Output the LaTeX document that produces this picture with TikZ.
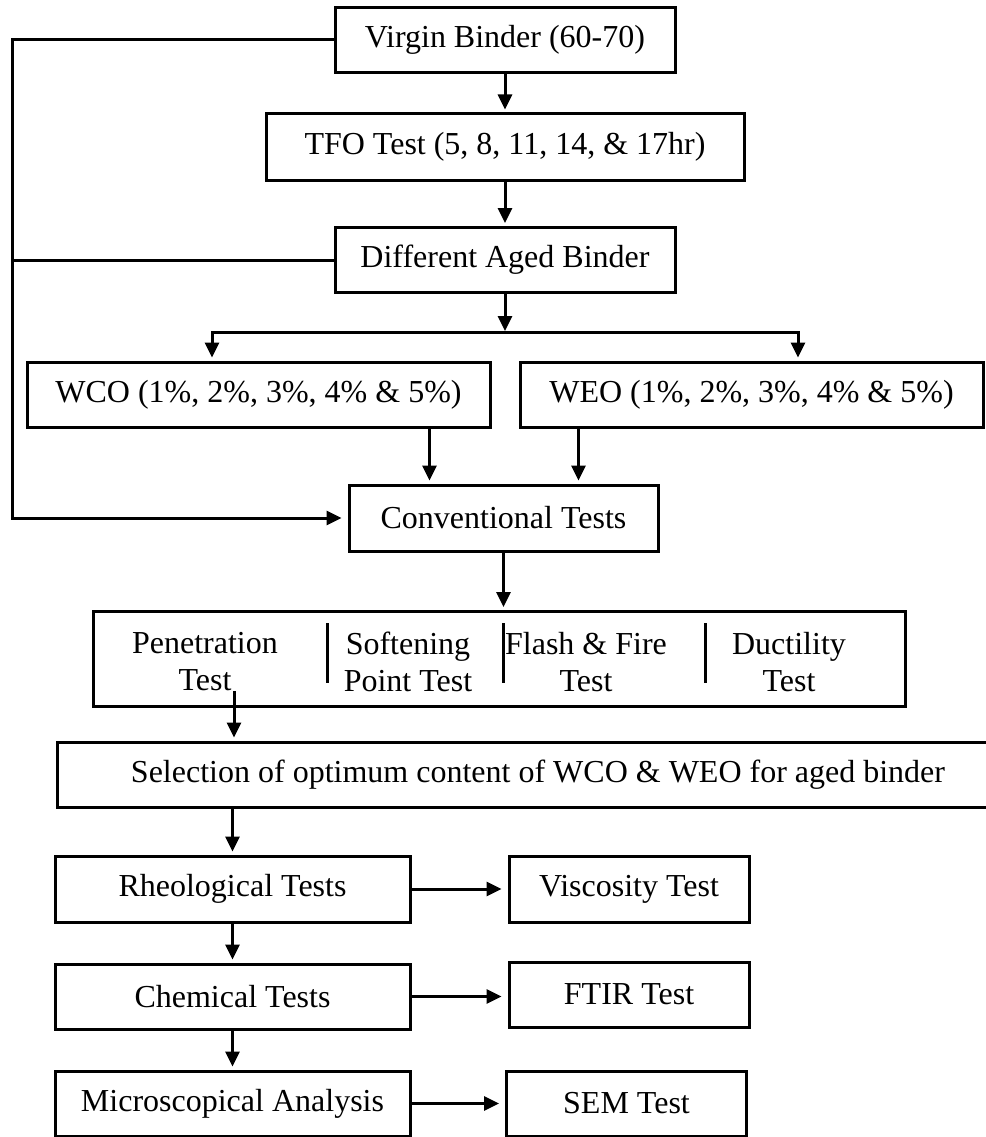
\documentclass[tikz,border=0pt]{standalone}
\usepackage{fontspec}
\setmainfont{Liberation Serif}
\usetikzlibrary{arrows.meta,positioning,calc}

\begin{document}
\begin{tikzpicture}[
    x=1pt, y=-1pt,
    font=\fontsize{32}{37}\selectfont,
    block/.style={rectangle, draw=black, line width=3pt, minimum height=65pt, inner sep=0pt, text centered},
    item/.style={align=center, inner sep=0pt},
    arrow/.style={-{Triangle[length=15pt,width=14pt]}, line width=3pt, shorten >=3pt},
    split/.style={{Triangle[length=15pt,width=14pt]}-{Triangle[length=15pt,width=14pt]}, line width=3pt, shorten <=3pt, shorten >=3pt},
    line/.style={line width=3pt}
]
    \useasboundingbox (0,0) rectangle (985,1137);

    % Ageing of the binder
    \node[block, minimum width=340pt] (virgin) at (505,40) {Virgin Binder (60-70)};
    \node[block, minimum width=478pt, minimum height=66pt] (tfo) at (505,147) {TFO Test (5, 8, 11, 14, \& 17hr)};
    \node[block, minimum width=340pt] (aged) at (505,260) {Different Aged Binder};
    \node[block, minimum width=463pt] (wco) at (258.5,394.5) {WCO (1\%, 2\%, 3\%, 4\% \& 5\%)};
    \node[block, minimum width=463pt] (weo) at (751.5,394.5) {WEO (1\%, 2\%, 3\%, 4\% \& 5\%)};
    \node[block, minimum width=309pt, minimum height=66pt] (conv) at (503.5,518) {Conventional Tests};

    % Conventional tests
    \node[block, minimum width=812pt, minimum height=95pt] (tests) at (499,659) {};
    \node[item] (pen) at (205,662) {Penetration\\Test};
    \node[item] (soft) at (408,662) {Softening\\Point Test};
    \node[item] (flash) at (586,662) {Flash \& Fire\\Test};
    \node[item] (duct) at (789,662) {Ductility\\Test};
    \draw[line] (327,623) -- (327,683);
    \draw[line] (503,623) -- (503,683);
    \draw[line] (705,623) -- (705,683);

    % Further tests
    \node[block, minimum width=962pt] (sel) at (538,774.5) {Selection of optimum content of WCO \& WEO for aged binder};
    \node[block, minimum width=355pt, minimum height=66pt] (rheo) at (232.5,889) {Rheological Tests};
    \node[block, minimum width=240pt, minimum height=66pt] (visc) at (629,889) {Viscosity Test};
    \node[block, minimum width=355pt] (chem) at (232.5,996.5) {Chemical Tests};
    \node[block, minimum width=240pt] (ftir) at (629,994.5) {FTIR Test};
    \node[block, minimum width=355pt] (micro) at (232.5,1103.5) {Microscopical Analysis};
    \node[block, minimum width=240pt] (sem) at (626.5,1103.5) {SEM Test};

    \coordinate (railtop) at (12,40);
    \coordinate (railbot) at (12,518);
    \coordinate (branch) at (505,332);
    \coordinate (bl) at (212,332);
    \coordinate (br) at (798,332);

    % Arrows
    \draw[arrow] (virgin) -- (tfo);
    \draw[arrow] (tfo) -- (aged);
    \draw[arrow, shorten >=1pt] (aged.south) -- (branch);
    \draw[split] (bl |- wco.north) -- (bl) -- (br) -- (br |- weo.north);
    \draw[arrow] ([xshift=-74pt]conv.north |- wco.south) -- ([xshift=-74pt]conv.north);
    \draw[arrow] ([xshift=75pt]conv.north |- weo.south) -- ([xshift=75pt]conv.north);
    \draw[arrow, shorten >=6pt] (virgin.west) -- (railtop) -- (railbot) -- (conv.west);
    \draw[line] (aged.west) -- (aged.west -| railtop);
    \draw[arrow] (conv.south) -- (conv.south |- tests.north);
    \draw[arrow] ([xshift=29pt]pen.south) -- ([xshift=29pt]pen.south |- sel.north);
    \draw[arrow] (rheo.north |- sel.south) -- (rheo.north);
    \draw[arrow] (rheo) -- (chem);
    \draw[arrow] (chem) -- (micro);
    \draw[arrow, shorten >=6pt] (rheo) -- (visc);
    \draw[arrow, shorten >=6pt] (chem.east) -- (chem.east -| ftir.west);
    \draw[arrow, shorten >=6pt] (micro) -- (sem);
\end{tikzpicture}
\end{document}
